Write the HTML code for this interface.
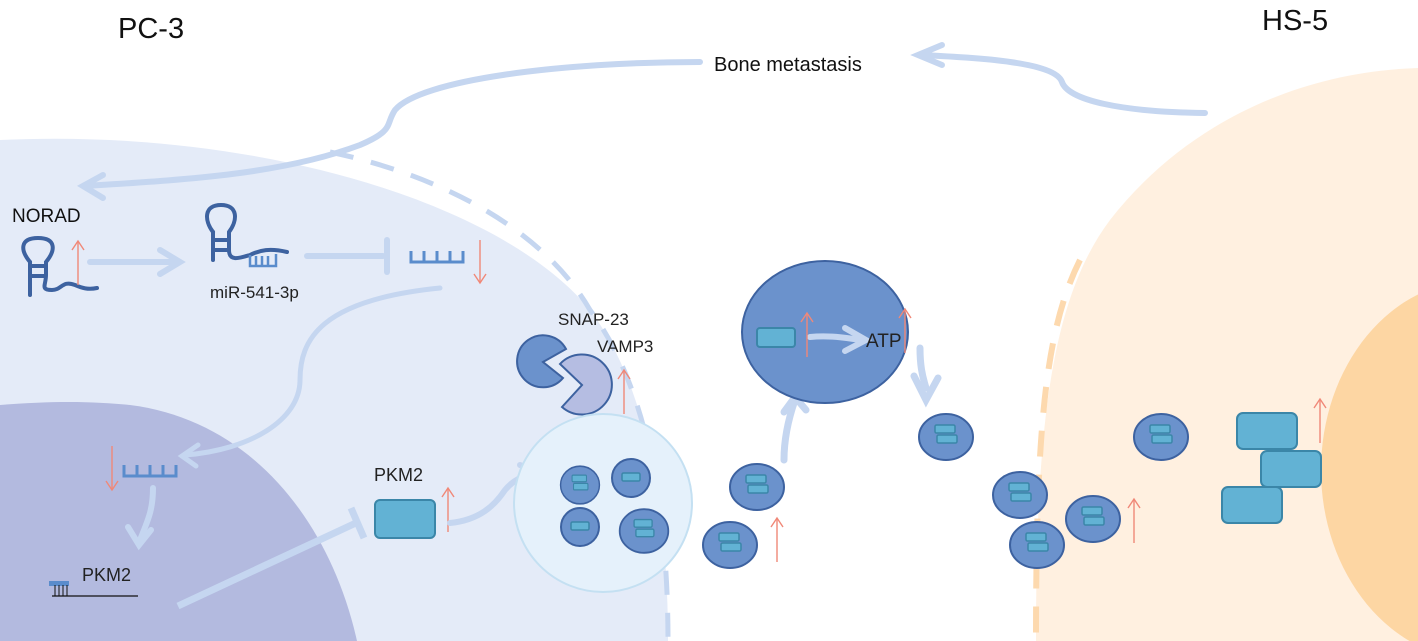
<!DOCTYPE html>
<html><head><meta charset="utf-8"><style>
html,body{margin:0;padding:0;background:#fff;width:1418px;height:641px;overflow:hidden;}
svg{display:block;font-family:"Liberation Sans",Arial,sans-serif;}
</style></head><body>
<svg width="1418" height="641" viewBox="0 0 1418 641" xmlns="http://www.w3.org/2000/svg">
<defs>
<g id="v2"><ellipse cx="0" cy="0" rx="27" ry="23" fill="#6b92cc" stroke="#3d62a0" stroke-width="2"/><rect x="-11" y="-12" width="20" height="8" rx="1.5" fill="#62b2d4" stroke="#3b86a8" stroke-width="1.5"/><rect x="-9" y="-2" width="20" height="8" rx="1.5" fill="#62b2d4" stroke="#3b86a8" stroke-width="1.5"/></g>
<g id="v1"><ellipse cx="0" cy="0" rx="19" ry="19" fill="#6b92cc" stroke="#3d62a0" stroke-width="2"/><rect x="-9" y="-5" width="18" height="8" rx="1.5" fill="#62b2d4" stroke="#3b86a8" stroke-width="1.5"/></g>
<g id="ua" stroke="#f08878" stroke-width="1.4" fill="none"><line x1="0" y1="0" x2="0" y2="-44"/><polyline points="-6,-35 0,-44 6,-35"/></g>
</defs>
<!-- HS-5 cell -->
<path d="M1418,68 C1290,72 1180,130 1110,220 C1050,300 1036,430 1036,641 L1418,641 Z" fill="#fff0e0"/>
<path d="M1080,260 C1045,330 1036,430 1036,641" fill="none" stroke="#fdd9ae" stroke-width="6" stroke-dasharray="26,18"/>
<ellipse cx="1478" cy="470" rx="157" ry="190" fill="#fdd6a3"/>
<!-- PC-3 cell -->
<path d="M0,140 C250,128 500,200 590,310 C650,390 668,520 668,641 L0,641 Z" fill="#e4ebf8"/>
<path d="M330,152 C460,180 550,240 590,310 C650,390 668,520 668,641" fill="none" stroke="#c5d6f0" stroke-width="5" stroke-dasharray="24,18"/>
<path d="M0,405 C60,400 100,402 130,405 C250,420 330,520 357,641 L0,641 Z" fill="#b3badf"/>
<!-- labels -->
<text x="118" y="38" font-size="29" fill="#111">PC-3</text>
<text x="1262" y="30" font-size="29" fill="#111">HS-5</text>
<text x="714" y="71" font-size="20" fill="#111">Bone metastasis</text>
<!-- bone metastasis arrows -->
<g fill="none" stroke="#c5d6f0" stroke-linecap="round">
<path d="M1205,113 C1120,112 1068,100 1062,82 C1055,62 980,58 922,55" stroke-width="6"/>
<polyline points="942,45 918,55 942,65" stroke-width="6"/>
<path d="M700,62 C560,62 420,80 395,110 C385,125 395,130 360,145 C280,175 180,180 85,186" stroke-width="6"/>
<polyline points="103,175 83,186 103,198" stroke-width="6"/>
</g>
<!-- NORAD -->
<text x="12" y="222" font-size="19" fill="#111">NORAD</text>
<g fill="none" stroke="#3d62a0" stroke-width="4" stroke-linecap="round">
<path d="M30,262 C20,250 20,238 38,238 C56,238 56,250 46,262 L46,275 C46,285 40,290 52,290 C62,290 62,280 75,285 C82,288 88,290 97,288"/>
<path d="M30,262 L30,295"/>
<line x1="31" y1="266" x2="45" y2="266"/><line x1="31" y1="276" x2="45" y2="276"/>
</g>
<use href="#ua" transform="translate(78,285)"/>
<g fill="none" stroke="#c5d6f0" stroke-width="6" stroke-linecap="round">
<line x1="90" y1="262" x2="178" y2="262"/><polyline points="160,250 180,262 160,274"/>
<line x1="307" y1="256" x2="383" y2="256"/><line x1="387" y1="240" x2="387" y2="272"/>
</g>
<!-- miR -->
<g fill="none" stroke="#3d62a0" stroke-width="4" stroke-linecap="round">
<path d="M213,232 C204,220 204,205 221,205 C238,205 238,220 229,232 L229,250 C229,262 240,258 250,255 C260,250 270,248 287,252"/>
<path d="M213,232 L213,260"/>
<line x1="214" y1="240" x2="228" y2="240"/><line x1="214" y1="250" x2="228" y2="250"/>
</g>
<g fill="none" stroke="#5a8ccc" stroke-width="2.5"><path d="M250,255 L250,266 L276,266 L276,254 M256,266 L256,256 M262,266 L262,256 M268,266 L268,256"/></g>
<text x="210" y="298" font-size="17" fill="#222">miR-541-3p</text>
<g fill="none" stroke="#5a8ccc" stroke-width="3"><path d="M411,251 L411,262 L463,262 L463,251 M424,262 L424,251 M437,262 L437,251 M450,262 L450,251"/></g>
<g stroke="#f08878" stroke-width="1.4" fill="none"><line x1="480" y1="240" x2="480" y2="283"/><polyline points="474,274 480,283 486,274"/></g>
<!-- curve to lower mRNA -->
<g fill="none" stroke="#c5d6f0" stroke-linecap="round">
<path d="M440,288 C320,300 300,340 300,380 C300,420 250,450 185,455" stroke-width="5"/>
<polyline points="198,445 182,456 196,466" stroke-width="5"/>
<path d="M153,488 C153,510 148,520 140,540" stroke-width="6"/>
<polyline points="128,527 139,545 151,530" stroke-width="6"/>
<line x1="178" y1="606" x2="358" y2="522" stroke-width="7" stroke-linecap="butt"/>
<line x1="351" y1="508" x2="364" y2="538" stroke-width="7" stroke-linecap="butt"/>
</g>
<g fill="none" stroke="#5a8ccc" stroke-width="3"><path d="M124,465 L124,476 L176,476 L176,465 M137,476 L137,465 M150,476 L150,465 M163,476 L163,465"/></g>
<g stroke="#f08878" stroke-width="1.4" fill="none"><line x1="112" y1="446" x2="112" y2="490"/><polyline points="106,481 112,490 118,481"/></g>
<text x="82" y="581" font-size="18" fill="#222">PKM2</text>
<line x1="52" y1="596" x2="138" y2="596" stroke="#111" stroke-width="1.2"/>
<rect x="49" y="581" width="20" height="5" fill="#5a8ccc"/>
<g stroke="#111" stroke-width="1"><line x1="55" y1="585" x2="55" y2="596"/><line x1="59" y1="585" x2="59" y2="596"/><line x1="63" y1="585" x2="63" y2="596"/><line x1="67" y1="585" x2="67" y2="596"/></g>
<!-- PKM2 protein -->
<text x="374" y="481" font-size="18" fill="#222">PKM2</text>
<rect x="375" y="500" width="60" height="38" rx="5" fill="#62b2d4" stroke="#3b86a8" stroke-width="2"/>
<use href="#ua" transform="translate(448,532)"/>
<g fill="none" stroke="#c5d6f0" stroke-linecap="round">
<path d="M450,523 C480,520 495,505 505,490 C515,478 525,476 535,473" stroke-width="6"/>
<polyline points="520,465 540,473 522,484" stroke-width="6"/>
</g>
<!-- SNAP-23 / VAMP3 -->
<text x="558" y="325" font-size="17" fill="#222">SNAP-23</text>
<text x="597" y="352" font-size="17" fill="#222">VAMP3</text>
<path d="M543,362 L566,349 A26,26 0 1 0 563,378 Z" fill="#6b92cc" stroke="#3d62a0" stroke-width="2"/>
<path d="M582,385 L560,364 A30,30 0 1 1 562,407 Z" fill="#b5bde2" stroke="#3d62a0" stroke-width="2"/>
<use href="#ua" transform="translate(624,414)"/>
<!-- MVB -->
<circle cx="603" cy="503" r="89" fill="#e5f1fb" stroke="#c4e0f2" stroke-width="2"/>
<use href="#v2" transform="translate(580,485) scale(0.72,0.82)"/>
<use href="#v1" transform="translate(631,478)"/>
<use href="#v1" transform="translate(580,527)"/>
<use href="#v2" transform="translate(644,531) scale(0.9,0.95)"/>
<!-- exosomes -->
<use href="#v2" transform="translate(757,487)"/>
<use href="#v2" transform="translate(730,545)"/>
<use href="#ua" transform="translate(777,562)"/>
<g fill="none" stroke="#c5d6f0" stroke-linecap="round">
<path d="M784,460 C784,440 788,420 795,400" stroke-width="7"/>
<polyline points="784,412 795,397 806,410" stroke-width="7"/>
<path d="M920,348 C920,365 922,375 926,388" stroke-width="7"/>
<polyline points="914,376 926,400 938,378" stroke-width="7"/>
</g>
<!-- big cell -->
<ellipse cx="825" cy="332" rx="83" ry="71" fill="#6b92cc" stroke="#3d62a0" stroke-width="2"/>
<rect x="757" y="328" width="38" height="19" rx="3" fill="#62b2d4" stroke="#3b86a8" stroke-width="2"/>
<g fill="none" stroke="#c5d6f0" stroke-linecap="round"><path d="M810,337 C830,335 845,338 862,340" stroke-width="6"/><polyline points="845,328 866,340 845,351" stroke-width="6"/></g>
<text x="866" y="347" font-size="19" fill="#222">ATP</text>
<use href="#ua" transform="translate(807,357)"/>
<use href="#ua" transform="translate(905,353)"/>
<use href="#v2" transform="translate(946,437)"/>
<use href="#v2" transform="translate(1161,437)"/>
<use href="#v2" transform="translate(1020,495)"/>
<use href="#v2" transform="translate(1093,519)"/>
<use href="#v2" transform="translate(1037,545)"/>
<use href="#ua" transform="translate(1134,543)"/>
<!-- HS-5 proteins -->
<rect x="1237" y="413" width="60" height="36" rx="6" fill="#62b2d4" stroke="#3b86a8" stroke-width="2"/>
<rect x="1261" y="451" width="60" height="36" rx="6" fill="#62b2d4" stroke="#3b86a8" stroke-width="2"/>
<rect x="1222" y="487" width="60" height="36" rx="6" fill="#62b2d4" stroke="#3b86a8" stroke-width="2"/>
<use href="#ua" transform="translate(1320,443)"/>
</svg>
</body></html>
